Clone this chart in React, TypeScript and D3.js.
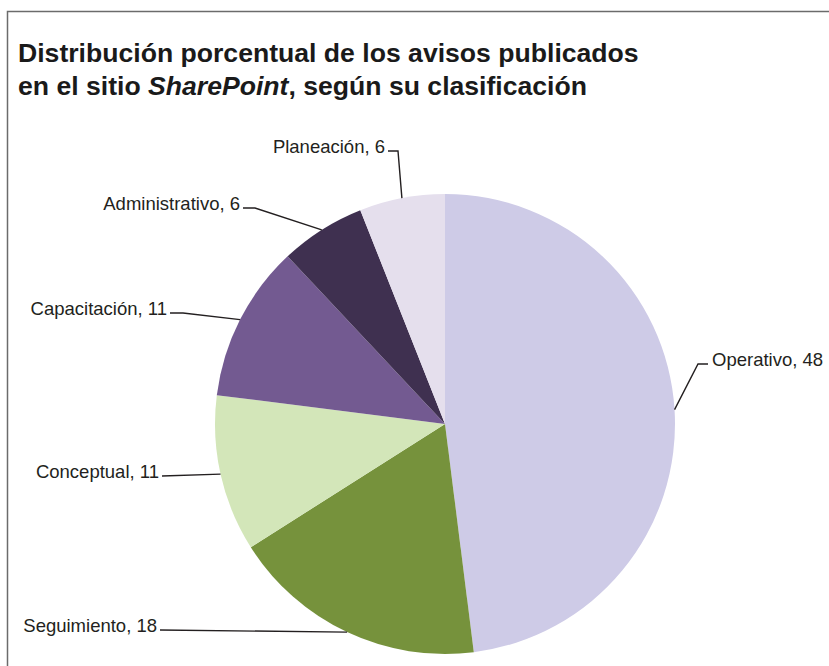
import React from 'react';
import * as d3 from 'd3';

const categories = ['Operativo', 'Seguimiento', 'Conceptual', 'Capacitación', 'Administrativo', 'Planeación'];
const values = [48, 18, 11, 11, 6, 6];
const colors = ['#cecbe7', '#76923c', '#d3e6b9', '#735a91', '#3f3050', '#e5dfed'];

// label layout (stub end point, elbow x, side) — layout only
const labelLayout = [
  { lx: 708, ly: 364, ex: 698, side: 'right' },
  { lx: 160, ly: 630, ex: null, side: 'left' },
  { lx: 162, ly: 476, ex: null, side: 'left' },
  { lx: 170, ly: 313, ex: 183, side: 'left' },
  { lx: 243, ly: 208, ex: 255, side: 'left' },
  { lx: 388, ly: 151, ex: 398, side: 'left' },
];

const W = 829;
const H = 666;
const cx = 445;
const cy = 424;
const R = 230;

export default function App() {
  const pie = d3.pie<number>().sort(null).value((d) => d)(values);
  const arc = d3.arc<d3.PieArcDatum<number>>().innerRadius(0).outerRadius(R);
  const font = '"Liberation Sans", Arial, Helvetica, sans-serif';

  return (
    <svg width={W} height={H} style={{ position: 'absolute', left: 0, top: 0 }} fontFamily={font}>
      <rect x={0} y={0} width={W} height={H} fill="#fff" />
      <rect x={7.5} y={11.5} width={W + 20} height={H + 20} fill="none" stroke="#6b6b6b" strokeWidth={1.5} />
      <text x={18} y={62} fontSize={26.6} fontWeight="bold" fill="#1a1a1a">
        Distribución porcentual de los avisos publicados
      </text>
      <text x={18} y={95} fontSize={26.6} fontWeight="bold" fill="#1a1a1a">
        en el sitio <tspan fontStyle="italic">SharePoint</tspan>, según su clasificación
      </text>
      <g transform={`translate(${cx},${cy})`}>
        {pie.map((p, i) => (
          <path key={categories[i]} d={arc(p) || ''} fill={colors[i]} />
        ))}
      </g>
      {pie.map((p, i) => {
        const mid = (p.startAngle + p.endAngle) / 2;
        const ax = cx + R * Math.sin(mid);
        const ay = cy - R * Math.cos(mid);
        const L = labelLayout[i];
        const pts: [number, number][] = [[ax, ay]];
        if (L.ex !== null) pts.push([L.ex, L.ly]);
        pts.push([L.lx, L.ly]);
        const line = d3.line()(pts) || '';
        const right = L.side === 'right';
        return (
          <g key={'l' + i}>
            <path d={line} fill="none" stroke="#231f20" strokeWidth={1.4} />
            <text
              x={right ? L.lx + 4 : L.lx - 3}
              y={L.ly + 2}
              fontSize={18.5}
              fill="#231f20"
              textAnchor={right ? 'start' : 'end'}
            >
              {`${categories[i]}, ${values[i]}`}
            </text>
          </g>
        );
      })}
    </svg>
  );
}
